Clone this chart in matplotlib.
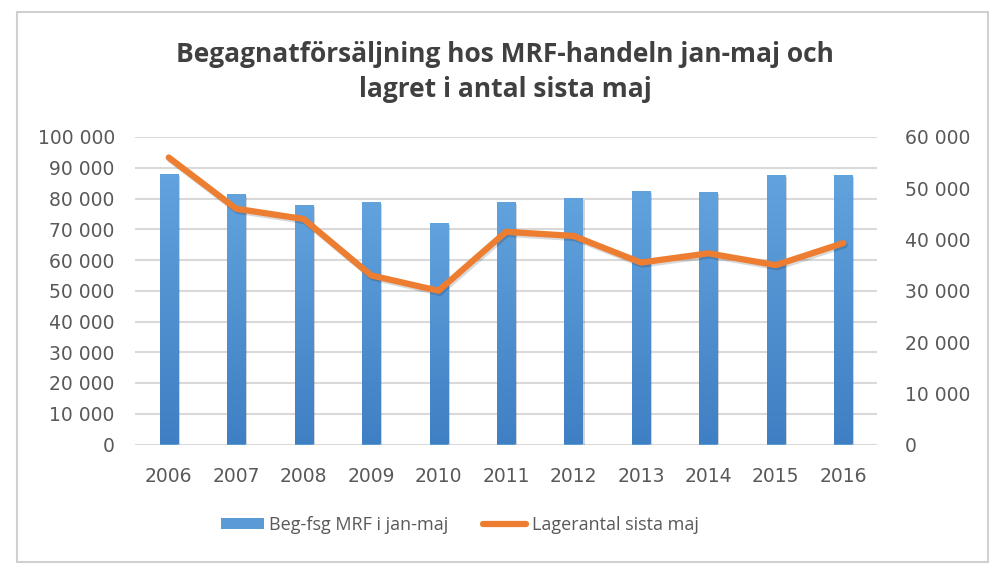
import matplotlib
matplotlib.use("Agg")
import matplotlib.pyplot as plt
import matplotlib.patheffects as pe
from matplotlib.patches import Rectangle, Patch
from matplotlib.lines import Line2D
from matplotlib.colors import LinearSegmentedColormap
import numpy as np

years = ["2006", "2007", "2008", "2009", "2010", "2011", "2012", "2013", "2014", "2015", "2016"]
sales = [88000, 81500, 78000, 79000, 72000, 79000, 80200, 82600, 82200, 87800, 87800]
stock = [56000, 46000, 44000, 33000, 30000, 41500, 40700, 35500, 37300, 35000, 39300]
left_ticks = [0, 10000, 20000, 30000, 40000, 50000, 60000, 70000, 80000, 90000, 100000]
right_ticks = [0, 10000, 20000, 30000, 40000, 50000, 60000]

title_lines = ["Begagnatförsäljning hos MRF-handeln jan-maj och", "lagret i antal sista maj"]
bar_label = "Beg-fsg MRF i jan-maj"
line_label = "Lagerantal sista maj"

TXT = "#595959"
plt.rcParams['font.family'] = ['Open Sans', 'DejaVu Sans']
NUMFONT = ['DejaVu Sans']

def fmt(v):
    return f"{int(v):,}".replace(",", " ")

fig = plt.figure(figsize=(10, 5.78), dpi=100)
H = 578.0
# outer border
fig.patches.append(Rectangle((0.017, 1 - 562 / H), 0.971, (562 - 12) / H,
                             transform=fig.transFigure, fill=False,
                             edgecolor="#d0d0d0", linewidth=1.5, zorder=0))

ax = fig.add_axes([0.135, 1 - 444.5 / H, 0.742, 307.5 / H])
x = np.arange(len(years))
bars = ax.bar(x, sales, width=0.267, color="#5b9bd5", zorder=2)
grad = np.linspace(0, 1, 256).reshape(-1, 1)
cmap = LinearSegmentedColormap.from_list("g", ["#3f7fc3", "#62a2dd"])
for b in bars:
    x0, y0 = b.get_x(), b.get_y()
    w, h = b.get_width(), b.get_height()
    im = ax.imshow(grad, cmap=cmap, extent=[x0, x0 + w, y0, y0 + h],
                   origin="lower", aspect="auto", zorder=2.1)
    im.set_clip_path(b)
    b.set_path_effects([pe.SimplePatchShadow(offset=(1.5, -1.5), alpha=0.2), pe.Normal()])

ax.set_xlim(-0.5, len(years) - 0.5)
ax.set_ylim(0, 100000)
ax.set_yticks(left_ticks)
ax.set_yticklabels([fmt(v) for v in left_ticks], family=NUMFONT)
ax.set_xticks(x)
ax.set_xticklabels(years, family=NUMFONT)
ax.grid(axis="y", color="#d9d9d9", linewidth=1.5, zorder=0)
ax.set_axisbelow(True)
for s in ax.spines.values():
    s.set_visible(False)
ax.tick_params(axis="both", length=0, labelsize=13.5, labelcolor=TXT)
ax.tick_params(axis="y", pad=14.5)
ax.tick_params(axis="x", pad=16)

ax2 = ax.twinx()
ax2.plot(x, stock, color="#ed7d31", linewidth=4.5, solid_joinstyle="round",
         solid_capstyle="round", zorder=3,
         path_effects=[pe.SimpleLineShadow(offset=(1, -1.5), alpha=0.15), pe.Normal()])
ax2.set_ylim(0, 60000)
ax2.set_yticks(right_ticks)
ax2.set_yticklabels([fmt(v) for v in right_ticks], family=NUMFONT)
for s in ax2.spines.values():
    s.set_visible(False)
ax2.tick_params(axis="y", length=0, labelsize=13.5, labelcolor=TXT, pad=20)
ax2.set_xlim(-0.5, len(years) - 0.5)

fig.text(0.505, 1 - 61.7 / H, title_lines[0], ha="center", va="baseline", fontsize=19,
         fontweight="bold", color="#404040")
fig.text(0.505, 1 - 96.7 / H, title_lines[1], ha="center", va="baseline", fontsize=19,
         fontweight="bold", color="#404040")

handles = [Patch(facecolor="#5b9bd5", edgecolor="none"),
           Line2D([0], [0], color="#ed7d31", linewidth=4.5, solid_capstyle="round")]
fig.legend(handles, [bar_label, line_label], loc="center", ncol=2,
           bbox_to_anchor=(0.4595, 1 - 525 / H), frameon=False, fontsize=13,
           labelcolor=TXT, handlelength=2.4, handleheight=0.6, handletextpad=0.3,
           columnspacing=1.9)

fig.savefig("out.png", dpi=100)
